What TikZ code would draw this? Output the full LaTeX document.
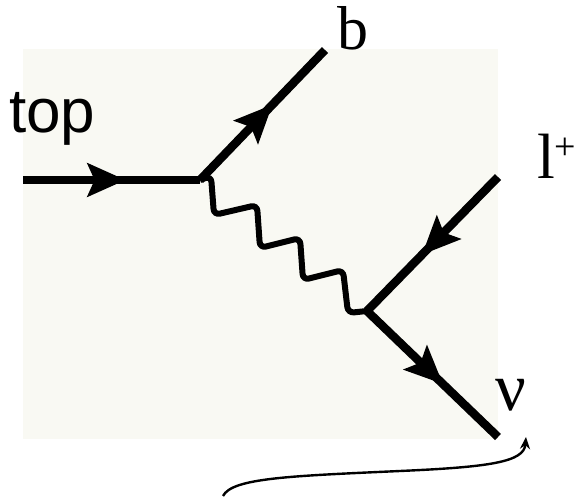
\documentclass[tikz,border=0pt]{standalone}
\usepackage{fontspec}
\setmainfont{Liberation Serif}
\newfontfamily\sansf{Liberation Sans}
\usetikzlibrary{arrows.meta,decorations.markings}
\definecolor{bgcream}{RGB}{249,249,243}
\tikzset{
  fermion/.style={line width=8.5pt, postaction={decorate}, decoration={markings,
      mark=at position 0.58 with {\arrow{Stealth[length=38pt,width=33pt,inset=7pt]}}}},
  photon/.style={line width=6pt, rounded corners=6pt},
  lbl/.style={inner sep=0pt, anchor=base west},
  pointer/.style={line width=2.4pt, -{Stealth[length=12pt,width=10pt]}}
}
\begin{document}
\begin{tikzpicture}[x=1pt,y=-1pt]
\useasboundingbox (0,0) rectangle (579,497);
\fill[bgcream] (23,49) rectangle (498,439);
\coordinate (v1) at (200,180);
\coordinate (v2) at (367,311);
\coordinate (tin) at (23,180);
\coordinate (bout) at (325,50);
\coordinate (lin) at (498,177);
\coordinate (nuout) at (498,437);
\coordinate (cstart) at (223,496);
\coordinate (ctip) at (526,437);
\draw[fermion] (tin) -- (v1);
\draw[fermion] (v1) -- (bout);
\draw[fermion] (lin) -- (v2);
\draw[fermion] (v2) -- (nuout);
\draw[photon] (v1) -- (211,176) -- (214,215) -- (257,205) -- (260,248) -- (300,238) -- (303,280) -- (343,270) -- (348,313) -- (v2);
\node[lbl, font=\sansf\fontsize{62}{62}\selectfont] (top) at (9,133) {top};
\node[lbl, font=\fontsize{62}{62}\selectfont] (b) at (337,50) {b};
\node[lbl, font=\fontsize{64}{64}\selectfont] (lp) at (537,179) {l\raisebox{19pt}{\fontsize{38}{38}\selectfont +}};
\node[lbl, font=\fontsize{68}{68}\selectfont] (nu) at (495,410) {ν};
\draw[pointer] (cstart) .. controls (232,478) and (290,476) .. (400,471) .. controls (490,467) and (524,462) .. (ctip);
\end{tikzpicture}
\end{document}
